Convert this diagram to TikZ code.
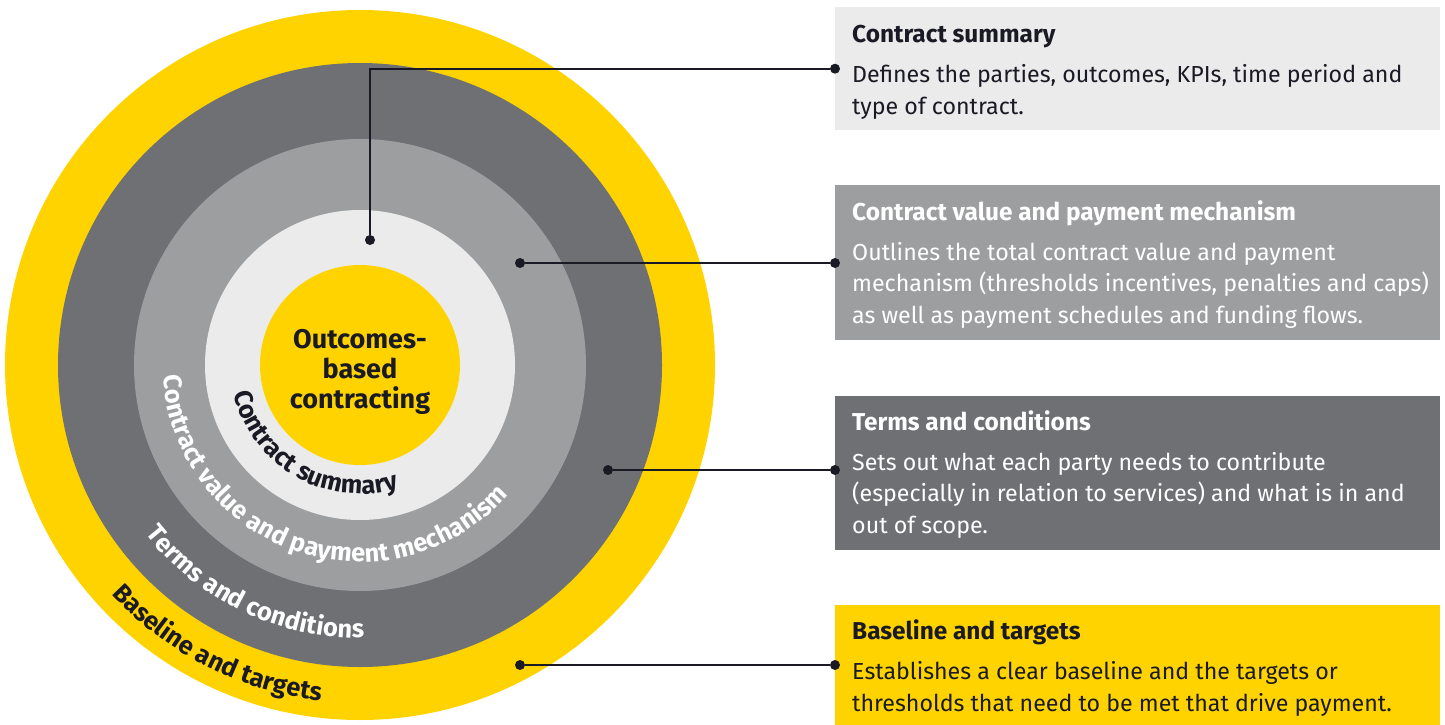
\documentclass[tikz,border=0pt]{standalone}
\usepackage{fontspec}
\setmainfont{Fira Sans}
\usetikzlibrary{positioning,calc,decorations.text}
\definecolor{eyyellow}{HTML}{FFD300}
\definecolor{ringdark}{HTML}{6F7073}
\definecolor{ringmid}{HTML}{9D9EA0}
\definecolor{ringlight}{HTML}{EBEBEB}
\definecolor{inkdark}{HTML}{1A1A24}
\newcommand{\bodysize}{\fontsize{23.2pt}{31.3pt}\selectfont}
\newcommand{\headsize}{\fontsize{24.4pt}{31.3pt}\selectfont\bfseries}
\newcommand{\arcsize}{\fontsize{25.5pt}{27pt}\selectfont\bfseries}
\tikzset{
ring/.style = {circle, inner sep=0pt, minimum size=#1},
infobox/.style = {rectangle, anchor=north west, minimum width=605pt, inner sep=0pt},
infotext/.style = {anchor=base west, align=left, inner sep=0pt, font=\bodysize},
dot/.style = {circle, fill=inkdark, inner sep=0pt, minimum size=10pt},
link/.style = {draw=inkdark, line width=2pt},
arclabel/.style = {decorate, decoration={text along path, text align=center, text={#1}}},
}
\begin{document}
\begin{tikzpicture}[x=1pt, y=1pt]
      \useasboundingbox (0,0) rectangle (1445,-725);
      \coordinate (hub) at (360,-365);
      \node [ring=710pt, fill=eyyellow] (baseline) at (hub) {};
      \node [ring=604pt, fill=ringdark] (terms) at (hub) {};
      \node [ring=452pt, fill=ringmid] (value) at (hub) {};
      \node [ring=310pt, fill=ringlight] (summary) at (hub) {};
      \node [ring=200pt, fill=eyyellow] (core) at (hub) {};
      \node [font=\fontsize{27pt}{30pt}\selectfont\bfseries, text=inkdark, align=center] (corelabel) at (360,-372) {Outcomes-\\based\\contracting};
      \path [arclabel={|\arcsize\color{inkdark}|Contract summary}] ([shift={(180:129)}]hub) arc [start angle=180, end angle=300, radius=129];
      \path [arclabel={|\arcsize\color{white}|Contract value and payment mechanism}] ([shift={(164:197)}]hub) arc [start angle=164, end angle=338, radius=197];
      \path [arclabel={|\arcsize\color{white}|Terms and conditions}] ([shift={(184.5:273)}]hub) arc [start angle=184.5, end angle=304.5, radius=273];
      \path [arclabel={|\arcsize\color{inkdark}|Baseline and targets}] ([shift={(183:338)}]hub) arc [start angle=183, end angle=303, radius=338];
      \node [infobox, fill=ringlight, minimum height=123pt] (box1) at (835,-7) {};
      \node [infobox, fill=ringmid, minimum height=155pt] (box2) at (835,-185) {};
      \node [infobox, fill=ringdark, minimum height=154pt] (box3) at (835,-396) {};
      \node [infobox, fill=eyyellow, minimum height=120pt] (box4) at (835,-605) {};
      \node [infotext, text=inkdark] (text1) at (852,-114) {{\headsize Contract summary}\\[9pt]Defines the parties, outcomes, KPIs, time period and\\type of contract.};
      \node [infotext, text=white] (text2) at (852,-323) {{\headsize Contract value and payment mechanism}\\[9pt]Outlines the total contract value and payment\\mechanism (thresholds incentives, penalties and caps)\\as well as payment schedules and funding flows.};
      \node [infotext, text=white] (text3) at (852,-533) {{\headsize Terms and conditions}\\[9pt]Sets out what each party needs to contribute\\(especially in relation to services) and what is in and\\out of scope.};
      \node [infotext, text=inkdark] (text4) at (852,-711) {{\headsize Baseline and targets}\\[9pt]Establishes a clear baseline and the targets or\\thresholds that need to be met that drive payment.};
      \node [dot] (pin1) at (370,-240) {};
      \node [dot] (pin2) at (520,-263) {};
      \node [dot] (pin3) at (608,-470) {};
      \node [dot] (pin4) at (520,-665) {};
      \node [dot] (tip1) at (box1.west) {};
      \node [dot] (tip2) at (pin2 -| box2.west) {};
      \node [dot] (tip3) at (pin3 -| box3.west) {};
      \node [dot] (tip4) at (pin4 -| box4.west) {};
      \draw [link] (pin1) |- (tip1);
      \draw [link] (pin2) -- (tip2);
      \draw [link] (pin3) -- (tip3);
      \draw [link] (pin4) -- (tip4);
      \end{tikzpicture}
\end{document}
